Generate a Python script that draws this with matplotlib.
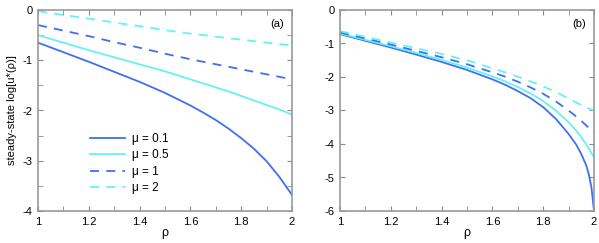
import numpy as np
from matplotlib import pyplot as plt
from matplotlib.ticker import MultipleLocator

plt.rcParams['font.family'] = ['Liberation Sans', 'DejaVu Sans']
plt.rcParams['axes.unicode_minus'] = False

mu_labels = ['\u03bc = 0.1', '\u03bc = 0.5', '\u03bc = 1', '\u03bc = 2']

# panel (a)
rho_a = [1.0, 1.1, 1.2, 1.3, 1.4, 1.5, 1.6, 1.65, 1.7, 1.75, 1.8, 1.85, 1.9, 1.95, 2.0]
a_mu01 = [-0.65, -0.84, -1.03, -1.23, -1.43, -1.65, -1.9, -2.04, -2.19, -2.36, -2.55, -2.76,
          -3.01, -3.32, -3.68]
a_mu05 = [-0.5, -0.65, -0.8, -0.94, -1.08, -1.22, -1.38, -1.46, -1.54, -1.62, -1.71, -1.8,
          -1.89, -1.98, -2.08]
a_mu1 = [-0.3, -0.41, -0.52, -0.64, -0.75, -0.87, -0.98, -1.03, -1.08, -1.13, -1.18, -1.23,
         -1.28, -1.33, -1.38]
a_mu2 = [-0.02, -0.1, -0.17, -0.25, -0.32, -0.4, -0.47, -0.5, -0.53, -0.56, -0.59, -0.62,
         -0.65, -0.68, -0.7]

# panel (b)
rho_b = [1.0, 1.1, 1.2, 1.3, 1.4, 1.5, 1.6, 1.65, 1.7, 1.75, 1.8, 1.85, 1.9, 1.93, 1.95, 1.97, 1.98, 1.99, 2.0]
b_mu01 = [-0.72, -0.92, -1.12, -1.33, -1.55, -1.79, -2.07, -2.23, -2.42, -2.63, -2.9, -3.25,
          -3.7, -4.02, -4.3, -4.65, -4.92, -5.3, -6.0]
b_mu05 = [-0.7, -0.89, -1.08, -1.28, -1.49, -1.72, -1.98, -2.13, -2.3, -2.49, -2.72, -3.0,
          -3.35, -3.6, -3.8, -4.02, -4.14, -4.27, -4.4]
b_mu1 = [-0.67, -0.85, -1.03, -1.22, -1.41, -1.62, -1.86, -1.99, -2.14, -2.31, -2.5, -2.73,
         -3.0, -3.18, -3.31, -3.45, -3.52, -3.59, -3.66]
b_mu2 = [-0.63, -0.8, -0.97, -1.14, -1.31, -1.5, -1.74, -1.86, -1.99, -2.13, -2.28, -2.45,
         -2.64, -2.76, -2.84, -2.91, -2.94, -2.97, -3.0]

blue = '#4070f0'
cyan = '#66f2f2'
styles = [(blue, '-'), (cyan, '-'), (blue, (0, (5, 4))), (cyan, (0, (5, 4)))]

fig = plt.figure(figsize=(5.99, 2.43), dpi=100)
ax1 = fig.add_axes([38 / 599, 1 - 211 / 243, 254 / 599, 201 / 243])
ax2 = fig.add_axes([340 / 599, 1 - 211 / 243, 254 / 599, 201 / 243])

for ys, (c, ls), lab in zip([a_mu01, a_mu05, a_mu1, a_mu2], styles, mu_labels):
    ax1.plot(rho_a, ys, color=c, linestyle=ls, lw=1.3, label=lab)
for ys, (c, ls) in zip([b_mu01, b_mu05, b_mu1, b_mu2], styles):
    ax2.plot(rho_b, ys, color=c, linestyle=ls, lw=1.3)

ax1.set_ylim(-4, 0)
ax1.set_yticks([-4, -3, -2, -1, 0])
ax1.yaxis.set_minor_locator(MultipleLocator(0.5))
ax2.set_ylim(-6, 0)
ax2.set_yticks([-6, -5, -4, -3, -2, -1, 0])

for ax, tag in [(ax1, '(a)'), (ax2, '(b)')]:
    ax.set_xlim(1, 2)
    ax.set_xticks([1, 1.2, 1.4, 1.6, 1.8, 2])
    ax.set_xticklabels(['1', '1.2', '1.4', '1.6', '1.8', '2'])
    ax.xaxis.set_minor_locator(MultipleLocator(0.1))
    ax.tick_params(which='both', direction='in', top=True, right=True,
                   color='#888888', labelsize=8, pad=4, length=3.5)
    for s in ax.spines.values():
        s.set_color('#999999')
        s.set_linewidth(1.2)
    ax.set_xlabel('\u03c1', fontsize=9, labelpad=0)
    ax.text(0.97, 0.93, tag, transform=ax.transAxes, ha='right', va='center', fontsize=8)

ax1.set_ylabel('steady-state log[u*(\u03c1)]', fontsize=8, labelpad=4)
ax1.legend(loc='lower left', bbox_to_anchor=(0.185, 0.06), frameon=False, fontsize=8.5,
           handlelength=3.0, handletextpad=0.6, labelspacing=0.38, borderaxespad=0)

fig.savefig('out.png', dpi=100)
